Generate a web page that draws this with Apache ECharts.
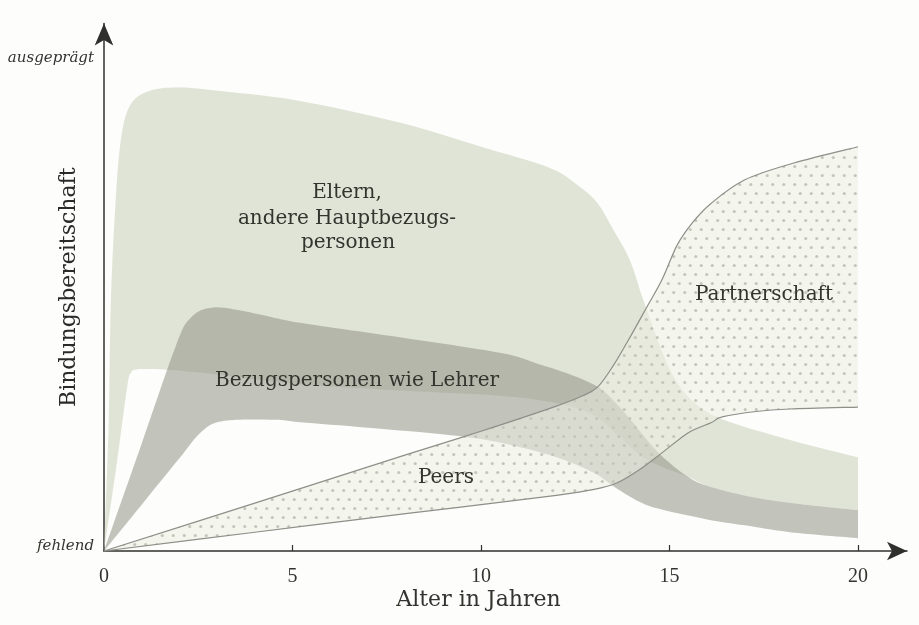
<!DOCTYPE html>
<html><head><meta charset="utf-8">
<script src="https://cdn.jsdelivr.net/npm/echarts@6/dist/echarts.min.js"></script>
<style>html,body{margin:0;padding:0;background:#fdfdfb}#c{width:919px;height:625px}</style>
</head><body><div id="c"></div>
<script>
// ---- data (age in years, Bindungsbereitschaft 0 = fehlend, 100 = ausgeprägt) ----
const xTicks = [0, 5, 10, 15, 20];
const xMinorTicks = [5, 10, 15, 20];
const yTickValues = [0, 100];
const yTickLabels = ['fehlend', 'ausgeprägt'];

const elternUpper = [[0,0],[0.12,25],[0.18,50],[0.3,70],[0.45,83.5],[0.7,90.5],[1.2,93.3],[2,94],[3.2,93.2],[5.2,91.3],[7.9,86.8],[10,82],[11.8,77.8],[12.6,74],[13.1,70.5],[13.5,65.3],[13.95,59],[14.3,51],[14.7,42.5],[15.1,35.5],[15.6,30.5],[16.4,26.7],[18.2,22.5],[20,19]];
const elternLower = [[0,0],[0.35,18.3],[0.62,33.5],[0.72,36.2],[0.85,36.8],[1.1,36.9],[1.6,36.8],[3,35.8],[5,34],[8,32.5],[10.5,31.5],[12,30],[13,27.5],[13.7,23],[14.4,18.5],[15.5,15],[16.1,13],[17.3,10.8],[18.5,9.5],[20,8.3]];

const lehrerUpper = [[0,0],[1,21.8],[1.9,41.5],[2.3,47.3],[2.9,49.4],[4,48.2],[5.2,46.3],[7.8,43.4],[10.5,40.2],[11.5,38],[12.3,36],[13.1,33.3],[13.6,29.8],[14,26.3],[14.7,20],[15.5,15],[16.1,13],[17.3,10.8],[18.5,9.5],[20,8.3]];
const lehrerLower = [[0,0],[1,9.4],[2,18.8],[2.6,24.3],[3.2,26.4],[4.5,26.6],[5.2,26.1],[7,25],[9.2,23.5],[10.5,22],[12,19],[13,15.8],[13.5,13.2],[14.2,10],[14.8,8.4],[16,6.4],[17,5.2],[18.2,3.8],[20,2.6]];

const peersPartnerUpper = [[0,0],[4,9.7],[8,19.5],[10,24.3],[12,29.4],[12.7,31.5],[13.1,33.3],[13.5,37.5],[14,44],[14.4,49.5],[14.8,55],[15.2,62],[15.6,66.5],[16.1,70.5],[17,75.3],[18.3,78.7],[20,82]];
const peersPartnerLower = [[0,0],[4,3.8],[8,7.6],[10,9.4],[12,11.3],[13,12.5],[13.6,13.8],[14.2,16.5],[14.8,19.9],[15.5,24],[16.1,26],[16.4,27.2],[17.3,28.3],[18.2,28.8],[20,29.2]];

// ---- helpers ----
function curve(pts) {
  let d = '';
  const n = pts.length;
  for (let i = 0; i < n - 1; i++) {
    const p0 = pts[Math.max(i - 1, 0)], p1 = pts[i], p2 = pts[i + 1], p3 = pts[Math.min(i + 2, n - 1)];
    const c1x = p1[0] + (p2[0] - p0[0]) / 6, c1y = p1[1] + (p2[1] - p0[1]) / 6;
    const c2x = p2[0] - (p3[0] - p1[0]) / 6, c2y = p2[1] - (p3[1] - p1[1]) / 6;
    d += 'C' + c1x.toFixed(2) + ',' + c1y.toFixed(2) + ' ' + c2x.toFixed(2) + ',' + c2y.toFixed(2) + ' ' + p2[0].toFixed(2) + ',' + p2[1].toFixed(2);
  }
  return d;
}
function mv(p) { return 'M' + p[0].toFixed(2) + ',' + p[1].toFixed(2); }

const pc = document.createElement('canvas');
pc.width = 11; pc.height = 18;
const g = pc.getContext('2d');
g.fillStyle = 'rgba(236,238,226,0.55)';
g.fillRect(0, 0, 11, 18);
g.fillStyle = '#c4c6bb';
g.beginPath(); g.arc(2.75, 4.5, 1.6, 0, Math.PI * 2); g.fill();
g.beginPath(); g.arc(8.25, 13.5, 1.6, 0, Math.PI * 2); g.fill();

function band(name, upper, lower, fill, lineColor, z) {
  return {
    type: 'custom', name: name, z: z, silent: true, clip: false,
    coordinateSystem: 'cartesian2d',
    data: [[upper[0][0], upper[0][1]]],
    renderItem: function (params, api) {
      const U = upper.map(function (p) { return api.coord(p); });
      const L = lower.map(function (p) { return api.coord(p); }).reverse();
      const d = mv(U[0]) + curve(U) + 'L' + L[0][0].toFixed(2) + ',' + L[0][1].toFixed(2) + curve(L) + 'Z';
      const children = [{ type: 'path', shape: { pathData: d }, style: { fill: fill, stroke: null } }];
      if (lineColor) {
        children.push({ type: 'path', shape: { pathData: mv(U[0]) + curve(U) }, style: { fill: null, stroke: lineColor, lineWidth: 1.2 } });
        const Lf = L.slice().reverse();
        children.push({ type: 'path', shape: { pathData: mv(Lf[0]) + curve(Lf) }, style: { fill: null, stroke: lineColor, lineWidth: 1.2 } });
      }
      return { type: 'group', children: children };
    }
  };
}

const chart = echarts.init(document.getElementById('c'));
const txt = '#34342f';
const serif = 'DejaVu Serif';
function label(text, x, y, size) {
  return { type: 'text', x: x, y: y, z: 100, silent: true,
    style: { text: text, fill: txt, font: (size || 20) + 'px "' + serif + '"', align: 'center', verticalAlign: 'middle' } };
}

chart.setOption({
  backgroundColor: '#fdfdfb',
  animation: false,
  grid: { left: 104, right: 12, top: 23.5, bottom: 74, containLabel: false, outerBoundsMode: 'none' },
  xAxis: {
    type: 'value', min: 0, max: 21.3, interval: 5,
    axisLine: { show: true, symbol: ['none', 'arrow'], symbolSize: [14, 20], lineStyle: { color: '#2f2f2c', width: 1.5 } },
    axisTick: { show: true, inside: true, length: 6, customValues: xMinorTicks, lineStyle: { color: '#2f2f2c', width: 1.2 } },
    axisLabel: { customValues: xTicks, fontFamily: 'Liberation Serif', fontSize: 20, color: txt, margin: 16 },
    splitLine: { show: false },
    name: 'Alter in Jahren', nameLocation: 'middle', nameGap: 38, nameMoveOverlap: false,
    nameTextStyle: { fontFamily: serif, fontSize: 22, color: txt, padding: [0, 54, 0, 0] }
  },
  yAxis: {
    type: 'value', min: 0, max: 107, interval: 100,
    axisLine: { show: true, symbol: ['none', 'arrow'], symbolSize: [14, 22], lineStyle: { color: '#2f2f2c', width: 1.5 } },
    axisTick: { show: false },
    axisLabel: {
      customValues: yTickValues, margin: 10,
      formatter: function (v) { const i = yTickValues.indexOf(v); return i === 0 ? '{lo|' + yTickLabels[0] + '}' : '{hi|' + yTickLabels[i] + '}'; },
      rich: {
        lo: { fontFamily: serif, fontStyle: 'italic', fontSize: 15, color: txt, padding: [0, 0, 9, 0] },
        hi: { fontFamily: serif, fontStyle: 'italic', fontSize: 15, color: txt, padding: [0, 0, 0, 0] }
      }
    },
    splitLine: { show: false },
    name: 'Bindungsbereitschaft', nameLocation: 'middle', nameGap: 24, nameMoveOverlap: false,
    nameTextStyle: { fontFamily: serif, fontSize: 22, color: '#2a2a27' }
  },
  series: [
    band('Eltern, andere Hauptbezugspersonen', elternUpper, elternLower, 'rgba(205,211,190,0.6)', null, 1),
    band('Bezugspersonen wie Lehrer', lehrerUpper, lehrerLower, 'rgba(140,142,128,0.52)', null, 2),
    band('Peers / Partnerschaft', peersPartnerUpper, peersPartnerLower, { image: pc, repeat: 'repeat' }, '#8d8f88', 3)
  ],
  graphic: [
    label('Eltern,', 347, 193),
    label('andere Hauptbezugs-', 347, 219),
    label('personen', 348, 243),
    label('Bezugspersonen wie Lehrer', 357, 381),
    label('Peers', 446, 478),
    label('Partnerschaft', 764, 295)
  ]
});
</script>
</body></html>
